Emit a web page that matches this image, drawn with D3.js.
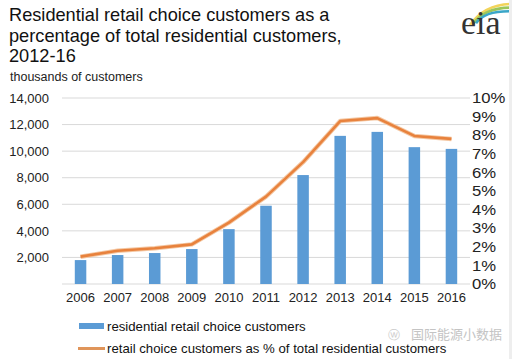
<!DOCTYPE html>
<html><head><meta charset="utf-8">
<script src="https://cdn.jsdelivr.net/npm/d3@7"></script>
<style>body{margin:0;background:#fff}svg{display:block;font-family:"Liberation Sans",Arial,sans-serif}</style>
</head><body><svg id="c" width="512" height="359"></svg>
<script>
const years = ["2006","2007","2008","2009","2010","2011","2012","2013","2014","2015","2016"];
const customers = [1800,2180,2330,2630,4130,5890,8200,11150,11450,10300,10170];
const sharePct = [1.47,1.79,1.92,2.13,3.3,4.7,6.55,8.76,8.92,7.96,7.8];
const leftTicks = [2000,4000,6000,8000,10000,12000,14000];
const rightTicks = [0,1,2,3,4,5,6,7,8,9,10];
const titleLines = ["Residential retail choice customers as a","percentage of total residential customers,","2012-16"];

const svg = d3.select("#c");
const L = 62, R = 470, T = 98, B = 284;
const x = d3.scaleBand().domain(years).range([L,R]);
const yL = d3.scaleLinear().domain([0,14000]).range([B,T]);
const yR = d3.scaleLinear().domain([0,10]).range([B,T]);

// title
svg.append("g").selectAll("text").data(titleLines).join("text")
  .attr("x",9).attr("y",(d,i)=>21+i*20.7).attr("font-size",18.2).attr("fill","#111").text(d=>d);
svg.append("text").attr("x",10).attr("y",81).attr("font-size",12.5).attr("fill","#222").text("thousands of customers");

// logo
const lg = svg.append("g");
[["#f2d45a",0],["#9cc65a",3],["#3aa6c8",6]].forEach(([c,o])=>{
  lg.append("path").attr("d",`M${470+o},${25-o*0.3} Q${484},${5+o} ${510},${4+o*1.2}`)
    .attr("fill","none").attr("stroke",c).attr("stroke-width",2.6);
});
lg.append("text").attr("x",461).attr("y",34).attr("font-family","Liberation Serif,serif")
  .attr("font-size",34).attr("fill","#333").text("eia");

// gridlines
svg.append("g").selectAll("line").data(leftTicks).join("line")
  .attr("x1",L).attr("x2",R).attr("y1",d=>yL(d)).attr("y2",d=>yL(d))
  .attr("stroke","#d9d9d9").attr("stroke-width",1);
svg.append("line").attr("x1",L).attr("x2",R).attr("y1",B).attr("y2",B).attr("stroke","#d9d9d9");

// axes
const axL = svg.append("g").attr("transform",`translate(${L},0)`)
  .call(d3.axisLeft(yL).tickValues(leftTicks).tickFormat(d3.format(",")).tickSize(0).tickPadding(13));
const axR = svg.append("g").attr("transform",`translate(${R},0)`)
  .call(d3.axisRight(yR).tickValues(rightTicks).tickFormat(d=>d+"%").tickSize(0).tickPadding(2));
const axB = svg.append("g").attr("transform",`translate(0,${B})`)
  .call(d3.axisBottom(x).tickSize(0).tickPadding(9));
[axL,axR,axB].forEach(a=>{a.select(".domain").remove();a.selectAll("text").attr("fill","#222").attr("font-family","Liberation Sans,Arial,sans-serif");});
axL.selectAll("text").attr("font-size",13);
axR.selectAll("text").attr("font-size",14.5).attr("transform","scale(1.15,1)").attr("x",2/1.15);
axB.selectAll("text").attr("font-size",13);

// bars
const bw = 11.5;
svg.append("g").selectAll("rect").data(years).join("rect")
  .attr("x",d=>x(d)+x.bandwidth()/2-bw/2).attr("width",bw)
  .attr("y",(d,i)=>yL(customers[i])).attr("height",(d,i)=>B-yL(customers[i]))
  .attr("fill","#5b9bd5");

// line
const line = d3.line().x(d=>x(d[0])+x.bandwidth()/2).y(d=>yR(d[1]));
const pts = years.map((y,i)=>[y,sharePct[i]]);
svg.append("path").datum(pts).attr("d",line).attr("fill","none")
  .attr("stroke","#f4c8a4").attr("stroke-width",4.5).attr("stroke-linejoin","round");
svg.append("path").datum(pts).attr("d",line).attr("fill","none")
  .attr("stroke","#e8823d").attr("stroke-width",2.6).attr("stroke-linejoin","round");

// legend
svg.append("rect").attr("x",79).attr("y",323).attr("width",25).attr("height",6).attr("fill","#5b9bd5");
svg.append("text").attr("x",107).attr("y",331).attr("font-size",13.2).attr("fill","#111").text("residential retail choice customers");
svg.append("line").attr("x1",78).attr("x2",105).attr("y1",348.5).attr("y2",348.5).attr("stroke","#e0955a").attr("stroke-width",3);
svg.append("text").attr("x",107).attr("y",353).attr("font-size",13.2).attr("fill","#111").text("retail choice customers as % of total residential customers");

// watermark
svg.append("text").attr("x",411).attr("y",339).attr("font-size",13)
  .attr("font-family","Noto Sans CJK SC,sans-serif").attr("fill","#c4c4c4").text("国际能源小数据");
svg.append("text").attr("x",388).attr("y",339).attr("font-size",12).attr("fill","#cccccc").text("ⓦ");
// right border
svg.append("rect").attr("x",509).attr("y",0).attr("width",3).attr("height",359).attr("fill","#eeeeee");
</script></body></html>
